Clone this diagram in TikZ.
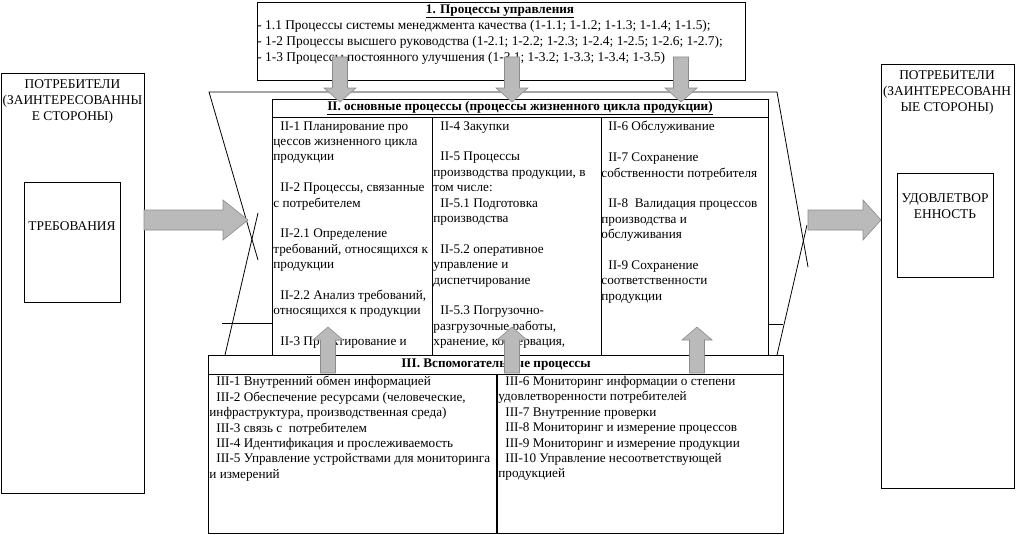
\documentclass[tikz,border=0pt]{standalone}
\usepackage{fontspec}
\setmainfont{Liberation Serif}
\newcommand\fs{\fontsize{13.2}{15.4}\selectfont}
\newcommand\fst{\fontsize{13.4}{16}\selectfont}
\newcommand\ind{\hspace*{7pt}}
\begin{document}
\begin{tikzpicture}[x=1pt,y=-1pt,line width=0.8pt,
  box/.style={draw,fill=white,inner sep=0,anchor=north west},
  txt/.style={inner sep=0,anchor=north west,align=left,font=\fs},
  ctxt/.style={inner sep=0,anchor=north,align=center,font=\fst},
  barrow/.style={fill=black!27,draw=black!45,line width=0.6pt}]
\useasboundingbox (0,0) rectangle (1017,535);

% outline (chevron-like frame)
\draw (258,260) -- (209,92) -- (777,92) -- (808,267);
\draw (258,213) -- (225,355);
\draw (807,225) -- (777,355);
\draw (222,323) -- (272,323);
\draw (768,324) -- (783,324);

% main box
\node[box,minimum width=496,minimum height=273] (main) at (272,99) {};
\draw (272,117) -- (768,117);
\draw (432,117) -- (432,372);
\draw (601,117) -- (601,372);
\node[inner sep=0,font=\fs\bfseries] (mainT) at (520,108) {\underline{II. основные процессы (процессы жизненного цикла продукции)}};

\node[txt] (c1) at (273,121) {\ind II-1 Планирование про\\цессов жизненного цикла\\продукции\\[15.4pt]\ind II-2 Процессы, связанные\\с потребителем\\[15.4pt]\ind II-2.1 Определение\\требований, относящихся к\\продукции\\[15.4pt]\ind II-2.2 Анализ требований,\\относящихся к продукции\\[15.4pt]\ind II-3 Проектирование и};
\node[txt] (c2) at (433,121) {\ind II-4 Закупки\\[15.4pt]\ind II-5 Процессы\\производства продукции, в\\том числе:\\\ind II-5.1 Подготовка\\производства\\[15.4pt]\ind II-5.2 оперативное\\управление и\\диспетчирование\\[15.4pt]\ind II-5.3 Погрузочно-\\разгрузочные работы,\\хранение, консервация,};
\node[txt] (c3) at (601,121) {\ind II-6 Обслуживание\\[15.4pt]\ind II-7 Сохранение\\собственности потребителя\\[15.4pt]\ind II-8\ \ Валидация процессов\\производства и\\обслуживания\\[15.4pt]\ind II-9 Сохранение\\соответственности\\продукции};

% bottom box
\node[box,minimum width=575,minimum height=19] (aux) at (208,355) {};
\node[box,minimum width=288,minimum height=159] (auxL) at (208,374) {};
\node[box,minimum width=286,minimum height=159,line width=1.2pt] (auxR) at (497,374) {};
\node[inner sep=0,font=\fs\bfseries] (auxT) at (496,365) {III. Вспомогательные процессы};
\node[txt] (b1) at (209,376) {\ind III-1 Внутренний обмен информацией\\\ind III-2 Обеспечение ресурсами (человеческие,\\инфраструктура, производственная среда)\\\ind III-3 связь с\ \ потребителем\\\ind III-4 Идентификация и прослеживаемость\\\ind III-5 Управление устройствами для мониторинга\\и измерений};
\node[txt] (b2) at (498,376) {\ind III-6 Мониторинг информации о степени\\удовлетворенности потребителей\\\ind III-7 Внутренние проверки\\\ind III-8 Мониторинг и измерение процессов\\\ind III-9 Мониторинг и измерение продукции\\\ind III-10 Управление несоответствующей\\продукцией};

% top box
\node[box,minimum width=488,minimum height=78] (top) at (257,2) {};
\node[inner sep=0,font=\fs\bfseries] (topT) at (500,11.5) {\underline{1. Процессы управления}};
\node[txt,font=\fst] (t1) at (257,20) {- 1.1 Процессы системы менеджмента качества (1-1.1; 1-1.2; 1-1.3; 1-1.4; 1-1.5);\\- 1-2 Процессы высшего руководства (1-2.1; 1-2.2; 1-2.3; 1-2.4; 1-2.5; 1-2.6; 1-2.7);\\- 1-3 Процессы постоянного улучшения (1-3.1; 1-3.2; 1-3.3; 1-3.4; 1-3.5)};

% consumers left
\node[box,minimum width=143,minimum height=420] (lbox) at (1,73) {};
\node[ctxt] (lboxT) at (72.5,79) {ПОТРЕБИТЕЛИ\\(ЗАИНТЕРЕСОВАННЫ\\Е СТОРОНЫ)};
\node[box,minimum width=96,minimum height=120] (req) at (24,182) {};
\node[inner sep=0,font=\fst] (reqT) at (72,226) {ТРЕБОВАНИЯ};

% consumers right
\node[box,minimum width=133,minimum height=424] (rbox) at (881,64) {};
\node[ctxt] (rboxT) at (947,70) {ПОТРЕБИТЕЛИ\\(ЗАИНТЕРЕСОВАНН\\ЫЕ СТОРОНЫ)};
\node[box,minimum width=96,minimum height=104] (sat) at (897,173) {};
\node[ctxt] (satT) at (945,193) {УДОВЛЕТВОР\\ЕННОСТЬ};

% block arrows
\coordinate (inTip) at (248,220);
\coordinate (outTip) at (881,220);
\draw[barrow] (inTip) -- ++(-25,-20) -- ++(0,10) -- ++(-79,0) -- ++(0,20) -- ++(79,0) -- ++(0,10) -- cycle;
\draw[barrow] (outTip) -- ++(-18,-20) -- ++(0,10) -- ++(-55,0) -- ++(0,20) -- ++(55,0) -- ++(0,10) -- cycle;
\foreach \x/\n in {340/d1,512/d2,681/d3}{
  \coordinate (\n) at (\x,102);
  \draw[barrow] (\n) -- ++(-16,-14) -- ++(8.5,0) -- ++(0,-31) -- ++(15,0) -- ++(0,31) -- ++(8.5,0) -- cycle;
}
\foreach \x/\n in {328/u1,512/u2,697/u3}{
  \coordinate (\n) at (\x,327);
  \draw[barrow] (\n) -- ++(-15,13) -- ++(7.5,0) -- ++(0,33) -- ++(15,0) -- ++(0,-33) -- ++(7.5,0) -- cycle;
}
\end{tikzpicture}
\end{document}
